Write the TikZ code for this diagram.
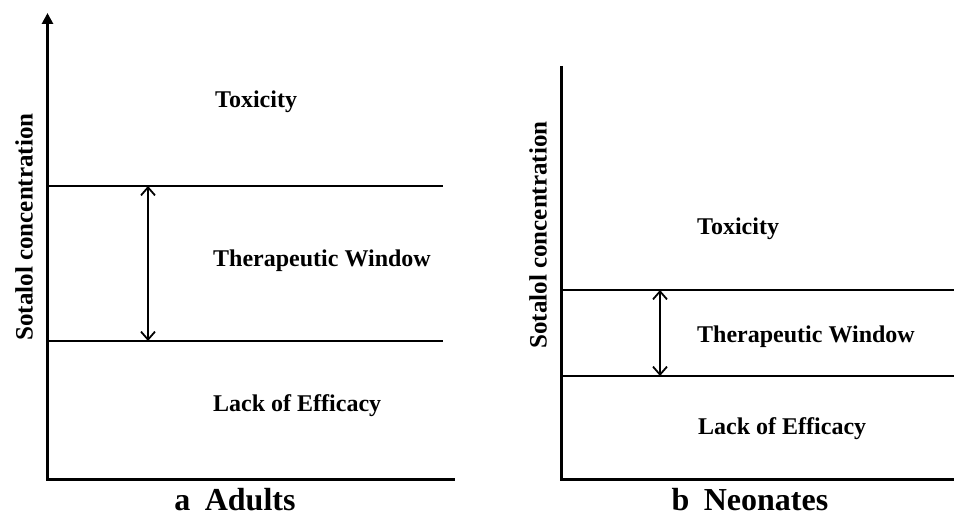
\documentclass[tikz,border=0pt]{standalone}
\usepackage{fontspec}
\setmainfont{Liberation Serif}
\usetikzlibrary{arrows.meta}

\begin{document}
\begin{tikzpicture}[x=1pt,y=-1pt,>={Straight Barb[length=8pt,width=14pt]}]
  \tikzstyle{axis}=[line width=3pt,line join=miter]
  \tikzstyle{level}=[line width=1.2pt]
  \tikzstyle{window}=[<->,line width=1.8pt]
  \tikzstyle{region}=[anchor=base west,inner sep=0pt,font=\fontsize{24}{28}\selectfont\bfseries]
  \tikzstyle{ylabel}=[rotate=90,inner sep=0pt,font=\fontsize{25}{28}\selectfont\bfseries]
  \tikzstyle{caption}=[anchor=base,inner sep=0pt,font=\fontsize{32}{36}\selectfont\bfseries]

  \useasboundingbox (0,0) rectangle (954,518);

  % a: adults
  \coordinate (Atop)  at (47.5,13);
  \coordinate (Aorig) at (47.5,480);
  \coordinate (Aend)  at (455,480);
  \coordinate (Ahiw)  at (47.5,186);
  \coordinate (Ahie)  at (443,186);
  \coordinate (Alow)  at (47.5,341);
  \coordinate (Aloe)  at (443,341);
  \coordinate (Awinhi) at (148,186);
  \coordinate (Awinlo) at (148,341);

  \draw[axis,{Triangle[length=11pt,width=11pt]}-] (Atop) -- (Aorig) -- (Aend);
  \draw[level] (Ahiw) -- (Ahie);
  \draw[level] (Alow) -- (Aloe);
  \draw[window] (Awinhi) -- (Awinlo);

  \node[region]  (Atox) at (215,108) {Toxicity};
  \node[region]  (Awin) at (213,267) {Therapeutic Window};
  \node[region]  (Alack) at (213,412) {Lack of Efficacy};
  \node[ylabel]  (Aconc) at (24,227) {Sotalol concentration};
  \node[caption] (Acap) at (235,511) {a\hspace{0.45em}Adults};

  % b: neonates
  \coordinate (Btop)  at (561,66);
  \coordinate (Borig) at (561,480);
  \coordinate (Bend)  at (954,480);
  \coordinate (Bhiw)  at (561,290);
  \coordinate (Bhie)  at (954,290);
  \coordinate (Blow)  at (561,376);
  \coordinate (Bloe)  at (954,376);
  \coordinate (Bwinhi) at (660,290);
  \coordinate (Bwinlo) at (660,376);

  \draw[axis] (Btop) -- (Borig) -- (Bend);
  \draw[level] (Bhiw) -- (Bhie);
  \draw[level] (Blow) -- (Bloe);
  \draw[window] (Bwinhi) -- (Bwinlo);

  \node[region]  (Btox) at (697,235) {Toxicity};
  \node[region]  (Bwin) at (697,343) {Therapeutic Window};
  \node[region]  (Black) at (698,435) {Lack of Efficacy};
  \node[ylabel]  (Bconc) at (538,235) {Sotalol concentration};
  \node[caption] (Bcap) at (750,511) {b\hspace{0.45em}Neonates};
\end{tikzpicture}
\end{document}
